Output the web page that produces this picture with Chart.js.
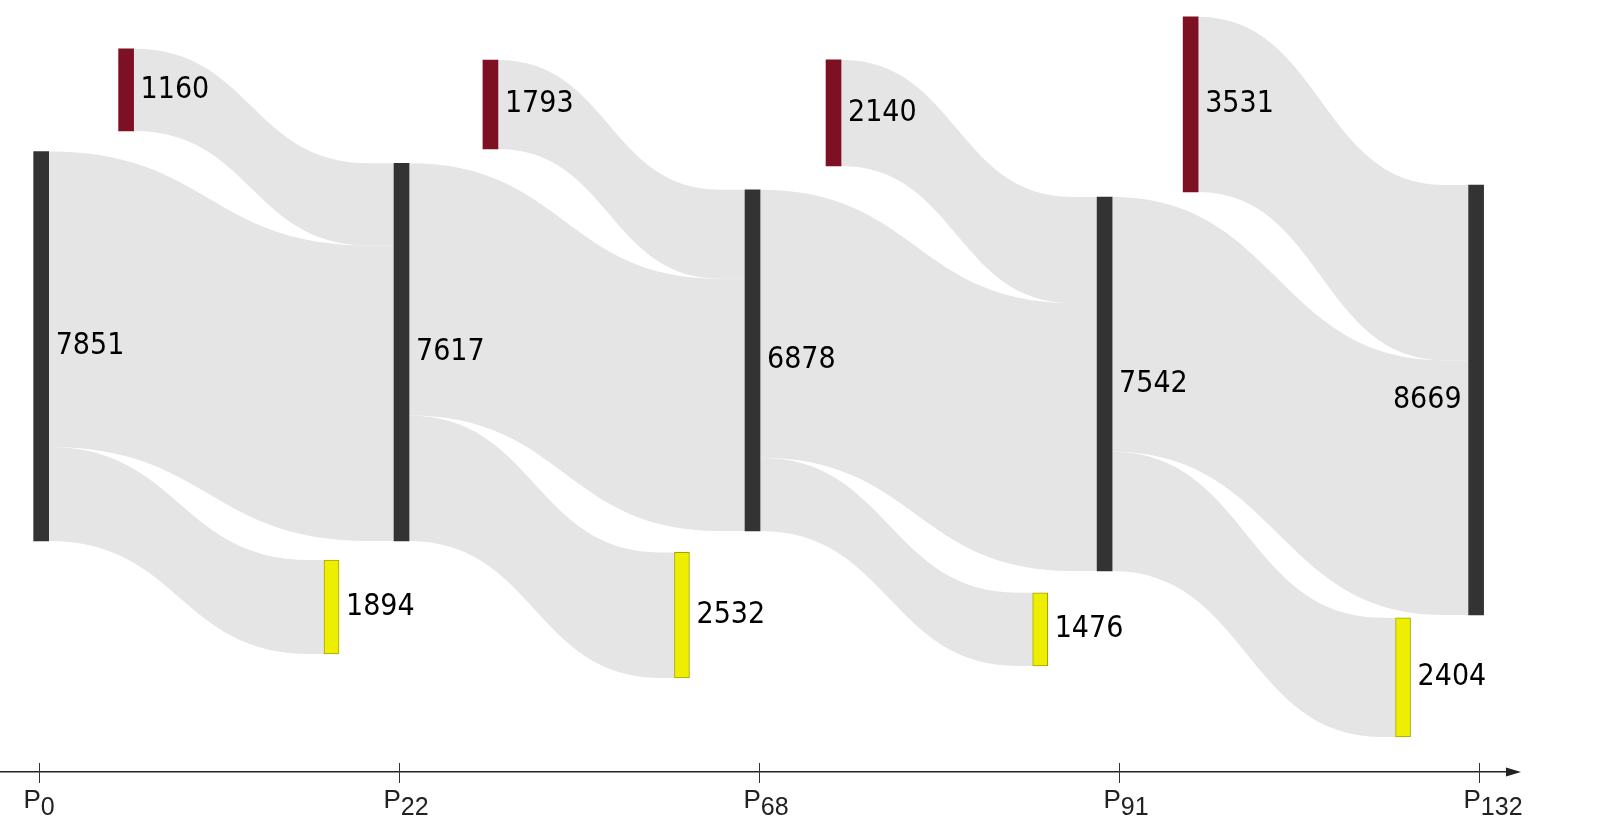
<!DOCTYPE html>
<html>
<head>
<meta charset="utf-8">
<title>Flow chart</title>
<script src="https://cdn.jsdelivr.net/npm/chart.js@4/dist/chart.umd.min.js"></script>
<style>
    html, body { margin: 0; padding: 0; background: #fff; }
</style>
</head>
<body>
<canvas id="flowChart" width="1610" height="826"></canvas>
<script>
// data
const periods = ['0', '22', '68', '91', '132'];
const stocks = [7851, 7617, 6878, 7542, 8669];
const inflowLabels = [1160, 1793, 2140, 3531];
const outflows = [1894, 2532, 1476, 2404];

// the incoming bars are drawn from the balance between two stocks
// (the first one is drawn taller than its printed 1160)
const inflows = outflows.map((out, i) => stocks[i + 1] - stocks[i] + out);

// node layout, in axis units (x: period index, y: same units as the values)
const stockX = [0.006, 1.007, 1.982, 2.960, 3.992];
const inX = [0.242, 1.254, 2.207, 3.199];
const outX = [0.8125, 1.786, 2.781, 3.789];
const stockBase = [4657, 4657, 4859, 4052, 3165];
const inBase = [12923, 12560, 12218, 11694];
const outBase = [2379, 1895, 2137, 706];

const BAR_W = 15;
const FLOW_COLOR = '#e5e5e5';
const VALUE_FONT = "30px 'DejaVu Sans Condensed', 'DejaVu Sans', sans-serif";

// curved band, flat for `flat` px before the target
function band(ctx, x0, a0, b0, x1, a1, b1, flat) {
    const xe = x1 - flat;
    const xm = (x0 + xe) / 2;
    ctx.beginPath();
    ctx.moveTo(x0, a0);
    ctx.bezierCurveTo(xm, a0, xm, a1, xe, a1);
    ctx.lineTo(x1, a1);
    ctx.lineTo(x1, b1);
    ctx.lineTo(xe, b1);
    ctx.bezierCurveTo(xm, b1, xm, b0, x0, b0);
    ctx.closePath();
    ctx.fill();
}

const flowPlugin = {
    id: 'flows',
    beforeDatasetsDraw(chart) {
        const { ctx, scales: { x, y } } = chart;
        const half = BAR_W / 2;
        ctx.save();
        ctx.fillStyle = FLOW_COLOR;
        for (let i = 0; i < outflows.length; i++) {
            const keep = stocks[i] - outflows[i];
            const sx = x.getPixelForValue(stockX[i]) + half;
            const tx = x.getPixelForValue(stockX[i + 1]) - half;
            const top = stockBase[i] + stocks[i];
            // stock that stays
            band(ctx, sx, y.getPixelForValue(top), y.getPixelForValue(top - keep),
                tx, y.getPixelForValue(stockBase[i + 1] + keep), y.getPixelForValue(stockBase[i + 1]), 25);
            // stock that leaves
            const ox = x.getPixelForValue(outX[i]) - half;
            band(ctx, sx, y.getPixelForValue(stockBase[i] + outflows[i]), y.getPixelForValue(stockBase[i]),
                ox, y.getPixelForValue(outBase[i] + outflows[i]), y.getPixelForValue(outBase[i]), 14);
            // stock that comes in
            const ix = x.getPixelForValue(inX[i]) + half;
            band(ctx, ix, y.getPixelForValue(inBase[i] + inflows[i]), y.getPixelForValue(inBase[i]),
                tx, y.getPixelForValue(stockBase[i + 1] + stocks[i + 1]), y.getPixelForValue(stockBase[i + 1] + keep), 25);
        }
        ctx.restore();
    },
    afterDatasetsDraw(chart) {
        const ctx = chart.ctx;
        ctx.save();
        ctx.font = VALUE_FONT;
        try { ctx.fontStretch = 'condensed'; } catch (e) {}
        ctx.fillStyle = '#000';
        ctx.textBaseline = 'middle';
        const texts = [stocks, inflowLabels, outflows];
        texts.forEach((values, d) => {
            chart.getDatasetMeta(d).data.forEach((bar, j) => {
                const cy = (bar.y + bar.base) / 2;
                const lastStock = d === 0 && j === values.length - 1;
                if (lastStock) {
                    ctx.textAlign = 'right';
                    ctx.fillText(String(values[j]), bar.x - bar.width / 2 - 7, cy);
                } else {
                    ctx.textAlign = 'left';
                    ctx.fillText(String(values[j]), bar.x + bar.width / 2 + 7, cy);
                }
            });
        });
        ctx.restore();
    },
    afterDraw(chart) {
        const { ctx, chartArea, scales: { x } } = chart;
        const axisY = chartArea.bottom;
        ctx.save();
        // arrow head
        ctx.fillStyle = '#222';
        ctx.beginPath();
        ctx.moveTo(chartArea.right - 2, axisY - 4.5);
        ctx.lineTo(chartArea.right + 13, axisY);
        ctx.lineTo(chartArea.right - 2, axisY + 4.5);
        ctx.closePath();
        ctx.fill();
        // tick marks and labels
        ctx.strokeStyle = '#333';
        ctx.lineWidth = 1;
        periods.forEach((sub, i) => {
            const px = Math.round(x.getPixelForValue(i)) + 0.5;
            ctx.beginPath();
            ctx.moveTo(px, axisY - 9);
            ctx.lineTo(px, axisY + 11);
            ctx.stroke();
            ctx.fillStyle = '#222';
            ctx.textAlign = 'left';
            ctx.textBaseline = 'alphabetic';
            ctx.font = "26px 'Liberation Sans', Arial, sans-serif";
            const startX = px - 16;
            ctx.fillText('P', startX, axisY + 36);
            const pw = ctx.measureText('P').width;
            ctx.font = "25px 'Liberation Sans Narrow', 'Liberation Sans', Arial, sans-serif";
            ctx.fillText(sub, startX + pw, axisY + 43);
        });
        ctx.restore();
    }
};

const chart = new Chart(document.getElementById('flowChart'), {
    type: 'bar',
    data: {
        datasets: [
            {
                label: 'Stock',
                data: stocks.map((v, i) => ({ x: stockX[i], y: [stockBase[i], stockBase[i] + v] })),
                backgroundColor: '#333333',
                borderWidth: 0
            },
            {
                label: 'Entrées',
                data: inflows.map((v, i) => ({ x: inX[i], y: [inBase[i], inBase[i] + v] })),
                backgroundColor: '#7d1022',
                borderWidth: 0
            },
            {
                label: 'Sorties',
                data: outflows.map((v, i) => ({ x: outX[i], y: [outBase[i], outBase[i] + v] })),
                backgroundColor: '#eeee00',
                borderColor: '#a3a300',
                borderWidth: 1,
                borderSkipped: false
            }
        ]
    },
    options: {
        responsive: false,
        animation: false,
        grouped: false,
        barThickness: BAR_W,
        layout: { padding: { left: 0, right: 102, top: 0, bottom: 0 } },
        plugins: {
            legend: { display: false },
            tooltip: { enabled: false }
        },
        scales: {
            x: {
                type: 'linear',
                offset: false,
                min: -39 / 360,
                max: -39 / 360 + 1508 / 360,
                grid: { display: false },
                border: { display: true, color: '#222', width: 1.5 },
                ticks: { display: false },
                afterFit(scale) { scale.height = 54; }
            },
            y: {
                display: false,
                min: 0,
                max: 15565
            }
        }
    },
    plugins: [flowPlugin]
});
</script>
</body>
</html>
